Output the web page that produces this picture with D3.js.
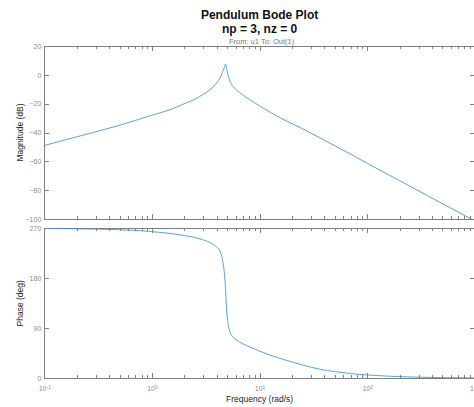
<!DOCTYPE html>
<html>
<head>
<meta charset="utf-8">
<script src="https://cdn.jsdelivr.net/npm/d3@7"></script>
<style>
  body { margin: 0; background: #fff; }
  svg { display: block; font-family: "Liberation Sans", Arial, sans-serif; }
  .axis path, .axis line { stroke: #808080; shape-rendering: crispEdges; }
  .axis text { fill: #8c8c8c; font-size: 7px; font-family: "Liberation Sans", Arial, sans-serif; }
</style>
</head>
<body>
<div id="chart"></div>
<script>
// frequency response
const freq     = [0.1, 0.2, 0.5, 1, 1.5, 2, 2.5, 3, 3.5, 4, 4.3, 4.5, 4.7, 4.83, 4.95, 5.1, 5.3, 5.6, 6, 7, 8, 10, 14, 18, 25, 37, 50, 70, 100, 200, 400, 1000];
const magDb    = [-49, -43, -35, -28, -24, -20, -17, -13.5, -10, -5.5, -2, 1.5, 5, 7.5, 4, -0.5, -4.5, -7.5, -10, -14, -17, -21.5, -28, -32.2, -37.4, -44, -49.2, -55, -61.4, -73.4, -85.5, -101.4];
const phaseDeg = [270, 269, 267.5, 264, 260.5, 257, 253.5, 249, 244, 236, 228, 215, 190, 160, 120, 98, 84, 75, 70, 62, 57, 49, 38.5, 32, 24, 16, 12, 8.5, 6, 3, 1.5, 0.6];

const magTicks = [20, 0, -20, -40, -60, -80, -100];
const phaseTicks = [0, 90, 180, 270];
const decades = [0.1, 1, 10, 100, 1000];

const W = 474, H = 407;
const left = 44.3, right = 474.9;

const svg = d3.select("#chart").append("svg")
    .attr("width", W)
    .attr("height", H);

const x = d3.scaleLog().domain([0.1, 1000]).range([left, right]);

const minorTicks = [];
decades.slice(0, -1).forEach(d => {
    for (let k = 2; k <= 9; k++) minorTicks.push(d * k);
});

const pts = freq.map((f, i) => ({ f: f, mag: magDb[i], ph: phaseDeg[i] }));

function panel(top, bottom, domain, ticks, key, showX, clipId) {
    const y = d3.scaleLinear().domain(domain).range([bottom, top]);
    const g = svg.append("g");

    g.append("clipPath").attr("id", clipId)
      .append("rect")
        .attr("x", left).attr("y", top)
        .attr("width", right - left).attr("height", bottom - top);

    // frame
    g.append("rect")
        .attr("x", left).attr("y", top)
        .attr("width", right - left).attr("height", bottom - top)
        .attr("fill", "none")
        .attr("stroke", "#808080")
        .attr("stroke-width", 1)
        .attr("shape-rendering", "crispEdges");

    // x ticks, bottom edge (pointing in)
    const xb = g.append("g").attr("class", "axis")
        .attr("transform", `translate(0,${bottom})`)
        .call(d3.axisBottom(x).tickValues(decades).tickSizeInner(-5).tickSizeOuter(0).tickPadding(8).tickFormat(""));
    g.append("g").attr("class", "axis")
        .attr("transform", `translate(0,${bottom})`)
        .call(d3.axisBottom(x).tickValues(minorTicks).tickSizeInner(-3).tickSizeOuter(0).tickFormat(""));

    if (showX) {
        xb.selectAll(".tick text").each(function(d) {
            const t = d3.select(this);
            t.append("tspan").text("10");
            t.append("tspan").attr("dy", "-0.45em").style("font-size", "5px").text(Math.round(Math.log10(d)));
        });
    }

    // x ticks, top edge
    g.append("g").attr("class", "axis")
        .attr("transform", `translate(0,${top})`)
        .call(d3.axisTop(x).tickValues(decades).tickSizeInner(-5).tickSizeOuter(0).tickFormat(""));
    g.append("g").attr("class", "axis")
        .attr("transform", `translate(0,${top})`)
        .call(d3.axisTop(x).tickValues(minorTicks).tickSizeInner(-3).tickSizeOuter(0).tickFormat(""));

    // y ticks left with labels, right without
    g.append("g").attr("class", "axis")
        .attr("transform", `translate(${left},0)`)
        .call(d3.axisLeft(y).tickValues(ticks).tickSizeInner(-5).tickSizeOuter(0).tickPadding(3));
    g.append("g").attr("class", "axis")
        .attr("transform", `translate(${right},0)`)
        .call(d3.axisRight(y).tickValues(ticks).tickSizeInner(-5).tickSizeOuter(0).tickFormat(""));

    g.selectAll(".axis .domain").remove();

    const line = d3.line()
        .x(d => x(d.f))
        .y(d => y(d[key]))
        .curve(d3.curveMonotoneX);

    g.append("path")
        .datum(pts)
        .attr("clip-path", `url(#${clipId})`)
        .attr("fill", "none")
        .attr("stroke", "#2f8ad4")
        .attr("stroke-width", 0.8)
        .attr("d", line);

    return y;
}

panel(46, 219, [-100, 20], magTicks, "mag", false, "clipMag");
panel(228.3, 378.3, [0, 270], phaseTicks, "ph", true, "clipPh");

// titles
const cx = (left + right) / 2;
svg.append("text")
    .attr("x", cx).attr("y", 18.5)
    .attr("text-anchor", "middle")
    .style("font-size", "12px").style("font-weight", "bold")
    .attr("fill", "#111")
    .text("Pendulum Bode Plot");
svg.append("text")
    .attr("x", cx).attr("y", 32.5)
    .attr("text-anchor", "middle")
    .style("font-size", "12px").style("font-weight", "bold")
    .attr("fill", "#111")
    .text("np = 3, nz = 0");
svg.append("text")
    .attr("x", cx + 2).attr("y", 43.5)
    .attr("text-anchor", "middle")
    .style("font-size", "7.5px")
    .attr("fill", "#777")
    .text("From: u1  To: Out(1)");

// axis titles
svg.append("text")
    .attr("transform", `translate(23,${(46 + 219) / 2}) rotate(-90)`)
    .attr("text-anchor", "middle")
    .style("font-size", "8.5px")
    .attr("fill", "#262626")
    .text("Magnitude (dB)");
svg.append("text")
    .attr("transform", `translate(23,${(228.3 + 378.3) / 2}) rotate(-90)`)
    .attr("text-anchor", "middle")
    .style("font-size", "8.5px")
    .attr("fill", "#262626")
    .text("Phase (deg)");
svg.append("text")
    .attr("x", cx).attr("y", 401.5)
    .attr("text-anchor", "middle")
    .style("font-size", "8.5px")
    .attr("fill", "#262626")
    .text("Frequency  (rad/s)");
</script>
</body>
</html>
